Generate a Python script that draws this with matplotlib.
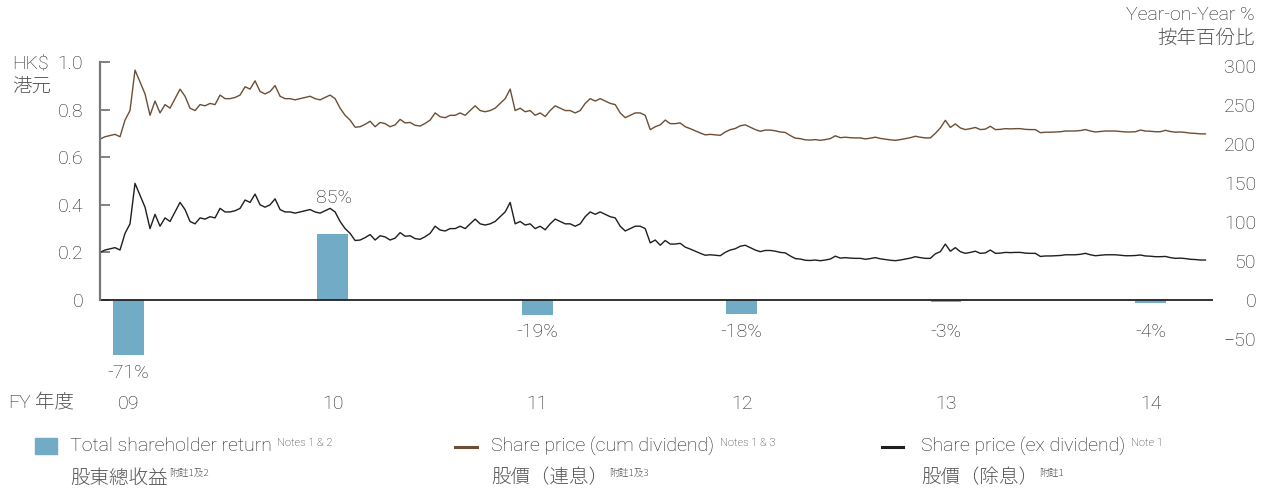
import numpy as np
import matplotlib.pyplot as plt
from matplotlib.patches import Rectangle
from matplotlib.lines import Line2D

plt.rcParams['font.family'] = ['Roboto', 'Noto Sans CJK JP', 'DejaVu Sans']
plt.rcParams['font.weight'] = 'light'

# share price, HK$, ex dividend (evenly spaced trading days FY09 -> FY14)
ex_div = [
    0.20, 0.21, 0.215, 0.22, 0.21, 0.28, 0.32, 0.49, 0.44, 0.39,
    0.30, 0.36, 0.31, 0.345, 0.33, 0.37, 0.41, 0.38, 0.33, 0.32,
    0.345, 0.34, 0.35, 0.345, 0.385, 0.37, 0.37, 0.375, 0.385, 0.42,
    0.41, 0.445, 0.40, 0.39, 0.40, 0.425, 0.38, 0.37, 0.37, 0.365,
    0.37, 0.375, 0.38, 0.37, 0.365, 0.375, 0.385, 0.37, 0.33, 0.30,
    0.28, 0.25, 0.252, 0.262, 0.275, 0.252, 0.27, 0.265, 0.252, 0.26,
    0.283, 0.268, 0.27, 0.258, 0.255, 0.266, 0.28, 0.31, 0.294, 0.29,
    0.30, 0.30, 0.31, 0.30, 0.32, 0.34, 0.32, 0.315, 0.32, 0.33,
    0.35, 0.37, 0.41, 0.32, 0.33, 0.315, 0.32, 0.30, 0.31, 0.295,
    0.32, 0.34, 0.33, 0.32, 0.32, 0.31, 0.32, 0.35, 0.37, 0.36,
    0.37, 0.36, 0.35, 0.345, 0.31, 0.29, 0.30, 0.31, 0.31, 0.30,
    0.24, 0.252, 0.23, 0.25, 0.235, 0.235, 0.238, 0.222, 0.214, 0.205,
    0.196, 0.188, 0.19, 0.188, 0.186, 0.20, 0.21, 0.215, 0.226, 0.23,
    0.22, 0.21, 0.203, 0.208, 0.208, 0.205, 0.20, 0.198, 0.185, 0.174,
    0.172, 0.167, 0.166, 0.168, 0.165, 0.168, 0.172, 0.184, 0.176, 0.178,
    0.176, 0.175, 0.175, 0.171, 0.174, 0.178, 0.173, 0.17, 0.167, 0.165,
    0.168, 0.172, 0.176, 0.182, 0.178, 0.175, 0.175, 0.194, 0.203, 0.235,
    0.205, 0.22, 0.203, 0.196, 0.2, 0.205, 0.196, 0.198, 0.21, 0.196,
    0.197, 0.2, 0.199, 0.2, 0.2, 0.197, 0.196, 0.196, 0.183, 0.185,
    0.185, 0.186, 0.187, 0.19, 0.19, 0.19, 0.192, 0.196, 0.19, 0.186,
    0.188, 0.19, 0.19, 0.19, 0.188, 0.186, 0.186, 0.187, 0.189, 0.185,
    0.184, 0.182, 0.182, 0.183, 0.178, 0.175, 0.176, 0.174, 0.171, 0.17,
    0.168, 0.168,
]

# share price, HK$, cum dividend
cum_div = [
    0.676, 0.686, 0.691, 0.696, 0.686, 0.756, 0.796, 0.966, 0.916, 0.866,
    0.776, 0.836, 0.786, 0.821, 0.806, 0.846, 0.886, 0.856, 0.806, 0.796,
    0.821, 0.816, 0.826, 0.821, 0.861, 0.846, 0.846, 0.851, 0.861, 0.896,
    0.886, 0.921, 0.876, 0.866, 0.876, 0.901, 0.856, 0.846, 0.846, 0.841,
    0.846, 0.851, 0.856, 0.846, 0.841, 0.851, 0.861, 0.846, 0.806, 0.776,
    0.756, 0.726, 0.728, 0.738, 0.751, 0.728, 0.746, 0.741, 0.728, 0.736,
    0.759, 0.744, 0.746, 0.734, 0.731, 0.742, 0.756, 0.786, 0.770, 0.766,
    0.776, 0.776, 0.786, 0.776, 0.796, 0.816, 0.796, 0.791, 0.796, 0.806,
    0.826, 0.846, 0.886, 0.796, 0.806, 0.791, 0.796, 0.776, 0.786, 0.771,
    0.796, 0.816, 0.806, 0.796, 0.796, 0.786, 0.796, 0.826, 0.846, 0.836,
    0.846, 0.836, 0.826, 0.821, 0.786, 0.766, 0.776, 0.786, 0.786, 0.776,
    0.716, 0.728, 0.736, 0.756, 0.741, 0.741, 0.744, 0.728, 0.720, 0.711,
    0.702, 0.694, 0.696, 0.694, 0.692, 0.706, 0.716, 0.721, 0.732, 0.736,
    0.726, 0.716, 0.709, 0.714, 0.714, 0.711, 0.706, 0.704, 0.691, 0.680,
    0.678, 0.673, 0.672, 0.674, 0.671, 0.674, 0.678, 0.690, 0.682, 0.684,
    0.682, 0.681, 0.681, 0.677, 0.680, 0.684, 0.679, 0.676, 0.673, 0.671,
    0.674, 0.678, 0.682, 0.688, 0.684, 0.681, 0.681, 0.700, 0.723, 0.755,
    0.725, 0.740, 0.723, 0.716, 0.720, 0.725, 0.716, 0.718, 0.730, 0.716,
    0.717, 0.720, 0.719, 0.720, 0.720, 0.717, 0.716, 0.716, 0.703, 0.705,
    0.705, 0.706, 0.707, 0.710, 0.710, 0.710, 0.712, 0.716, 0.710, 0.706,
    0.708, 0.710, 0.710, 0.710, 0.708, 0.706, 0.706, 0.707, 0.714, 0.710,
    0.709, 0.707, 0.707, 0.713, 0.708, 0.705, 0.706, 0.704, 0.701, 0.700,
    0.698, 0.698,
]

fy_labels = ['09', '10', '11', '12', '13', '14']
tsr = [-71, 85, -19, -18, -3, -4]   # total shareholder return, YoY %

price_ticks = [0, 0.2, 0.4, 0.6, 0.8, 1.0]
price_tick_labels = ['0', '0.2', '0.4', '0.6', '0.8', '1.0']
pct_ticks = [-50, 0, 50, 100, 150, 200, 250, 300]

BAR = '#71abc6'
BROWN = '#6d4e34'
BLACK = '#1e1e1e'
TXT = '#222222'
ZH_TXT = '#555555'
ZH = dict(family=['Noto Sans CJK JP', 'DejaVu Sans'], weight=300, color=ZH_TXT)

W, H = 1270, 490
fig = plt.figure(figsize=(W / 100, H / 100), dpi=100)
ax = fig.add_axes([100 / W, 1 - 360 / H, 1113 / W, 298 / H])
ax2 = ax.twinx()

# bars on the right (%) scale
x_fy = np.arange(len(tsr))
ax2.bar(x_fy, tsr, width=0.15, color=BAR, zorder=1)
for xi, v in zip(x_fy, tsr):
    if v > 0:
        ax2.annotate(f'{v}%', (xi, v), xytext=(1, 26), textcoords='offset points',
                     ha='center', va='center', fontsize=14, color=TXT)
    else:
        ax2.annotate(f'{v}%', (xi, min(v, -19)), xytext=(0, -12.5), textcoords='offset points',
                     ha='center', va='center', fontsize=14, color=TXT)

# price lines on the left (HK$) scale
x_days = np.linspace(-0.139, 5.269, len(ex_div))
ax.plot(x_days, cum_div, color=BROWN, lw=1.0)
ax.plot(x_days, ex_div, color=BLACK, lw=1.0)
ax.axhline(0, color='#222222', lw=1.3)

ax.set_zorder(ax2.get_zorder() + 1)
ax.patch.set_visible(False)

ax.set_xlim(-0.139, 5.306)
ax.set_ylim(-0.2521, 1.0)
ax2.set_ylim(-76.92, 305.13)

for s in ['top', 'right', 'bottom']:
    ax.spines[s].set_visible(False)
    ax2.spines[s].set_visible(False)
ax2.spines['left'].set_visible(False)
ax.spines['left'].set_bounds(0, 1.0)
ax.spines['left'].set_color('#777777')
ax.spines['left'].set_linewidth(1.6)
ax2.spines['right'].set_bounds(0, 300)
ax2.spines['right'].set_color('#777777')
ax2.spines['right'].set_linewidth(1.2)

ax.set_yticks(price_ticks)
ax.set_yticklabels(price_tick_labels)
ax.tick_params(axis='y', direction='in', length=7, width=1.3, color='#777777',
               pad=12, labelsize=14, labelcolor=TXT)
ax2.set_yticks(pct_ticks)
ax2.tick_params(axis='y', length=0, pad=31, labelsize=14, labelcolor=TXT)
for lab in ax2.get_yticklabels():
    lab.set_horizontalalignment('right')

ax.set_xticks(x_fy)
ax.set_xticklabels(fy_labels)
ax.tick_params(axis='x', length=0, pad=25, labelsize=14, labelcolor=TXT)

# axis titles
fig.text(12 / W, 1 - 63 / H, 'HK$', fontsize=14, color=TXT, va='center')
fig.text(12 / W, 1 - 87 / H, '港元', fontsize=14, va='center', **ZH)
fig.text(1255 / W, 1 - 15 / H, 'Year-on-Year %', fontsize=14, color=TXT, va='center', ha='right')
fig.text(1255 / W, 1 - 38 / H, '按年百份比', fontsize=14, va='center', ha='right', **ZH)
t_fy = fig.text(8 / W, 1 - 403 / H, 'FY', fontsize=14, color=TXT, va='center')
ax.annotate('年度', xy=(1, 0.5), xycoords=t_fy, xytext=(3, 0), textcoords='offset points',
            fontsize=14, va='center', ha='left', **ZH)

# legend
fig.add_artist(Rectangle((35 / W, 1 - 454 / H), 22 / W, 16 / H, color=BAR, transform=fig.transFigure))
fig.add_artist(Line2D([455 / W, 477 / W], [1 - 447 / H] * 2, color=BROWN, lw=2.2, transform=fig.transFigure))
fig.add_artist(Line2D([882 / W, 903 / W], [1 - 447 / H] * 2, color=BLACK, lw=2.2, transform=fig.transFigure))

legend_items = [
    (70, 'Total shareholder return', 'Notes 1 & 2', '股東總收益', '附註1及2'),
    (491, 'Share price (cum dividend)', 'Notes 1 & 3', '股價（連息）', '附註1及3'),
    (921, 'Share price (ex dividend)', 'Note 1', '股價（除息）', '附註1'),
]
for x0, en, en_note, zh, zh_note in legend_items:
    t_en = fig.text(x0 / W, 1 - 446 / H, en, fontsize=14, color=TXT, va='center')
    ax.annotate(en_note, xy=(1, 1), xycoords=t_en, xytext=(4, -1), textcoords='offset points',
                fontsize=8, color=TXT, va='top', ha='left')
    t_zh = fig.text(x0 / W, 1 - 478 / H, zh, fontsize=14, va='center', **ZH)
    ax.annotate(zh_note, xy=(1, 1), xycoords=t_zh, xytext=(1, -1), textcoords='offset points',
                fontsize=7, va='top', ha='left', **ZH)

fig.savefig('out.png', dpi=100)
